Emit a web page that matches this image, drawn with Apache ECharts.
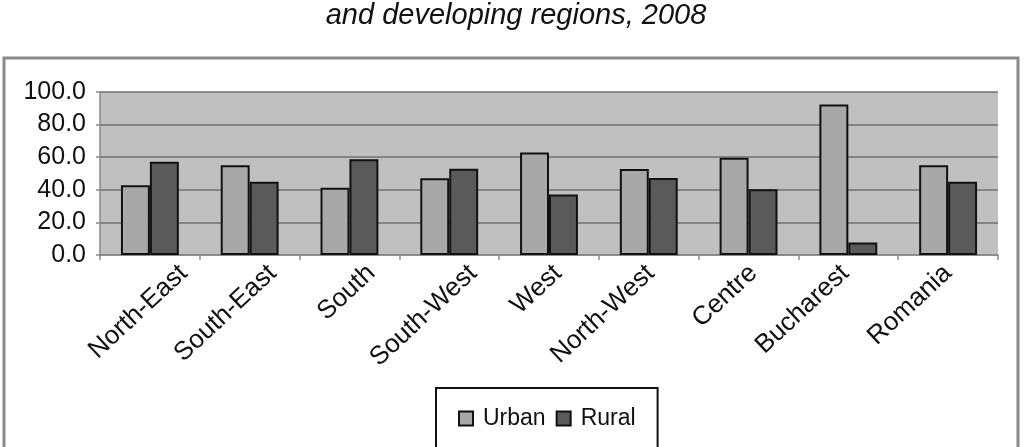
<!DOCTYPE html>
<html>
<head>
<meta charset="utf-8">
<script src="https://cdn.jsdelivr.net/npm/echarts@6/dist/echarts.min.js"></script>
<style>
html,body{margin:0;padding:0;background:#fff;}
#chart{width:1032px;height:447px;}
</style>
</head>
<body>
<div id="chart"></div>
<script>
// ---- data ----
const titleText = 'and developing regions, 2008';
const categories = ['North-East', 'South-East', 'South', 'South-West', 'West', 'North-West', 'Centre', 'Bucharest', 'Romania'];
const urban = [42.8, 55.0, 41.3, 47.1, 62.9, 52.7, 59.6, 92.3, 55.0];
const rural = [57.2, 45.0, 58.7, 52.9, 37.1, 47.3, 40.4, 7.7, 45.0];
const seriesNames = ['Urban', 'Rural'];

// ---- style ----
const FONT = "'Liberation Sans', Arial, sans-serif";
const ROT = 43;
const labelNudge = [25, 14, 13, 15, 0, -7, -4, -12, -9]; // horizontal nudge of each rotated label (px)
const Yoff = 60;
const rad = ROT * Math.PI / 180;
const rich = {};
labelNudge.forEach((dx, i) => {
  const t = Math.sin(rad) * dx + Math.cos(rad) * Yoff;
  const r = -Math.cos(rad) * dx + Math.sin(rad) * Yoff;
  rich['l' + i] = { padding: [t, Math.max(0, r), 0, 0], fontFamily: FONT, fontSize: 26, color: '#111' };
});

const chart = echarts.init(document.getElementById('chart'), null, { renderer: 'canvas' });
chart.setOption({
  animation: false,
  backgroundColor: '#fff',
  title: {
    text: titleText,
    left: 'center',
    top: 1,
    padding: 0,
    textStyle: { fontFamily: FONT, fontStyle: 'italic', fontWeight: 'normal', fontSize: 29, color: '#111' }
  },
  graphic: [{
    type: 'rect',
    shape: { x: 4, y: 58, width: 1014, height: 420 },
    style: { fill: 'none', stroke: '#8a8a8a', lineWidth: 3 },
    silent: true, z: 0
  }],
  legend: {
    data: seriesNames,
    left: 436,
    top: 388,
    padding: [19, 22, 40, 22],
    borderColor: '#111',
    borderWidth: 2,
    itemWidth: 14,
    itemHeight: 14,
    itemGap: 10,
    icon: 'rect',
    textStyle: { fontFamily: FONT, fontSize: 23, color: '#111', padding: [0, 0, 0, 5] }
  },
  grid: {
    left: 100, right: 34, top: 92, bottom: 192,
    show: true, backgroundColor: '#c0c0c0', borderWidth: 0,
    containLabel: false
  },
  xAxis: {
    type: 'category',
    data: categories,
    axisLine: { show: true, lineStyle: { color: '#8a8a8a', width: 1.5 } },
    axisTick: { show: true, alignWithLabel: false, length: 5, lineStyle: { color: '#8a8a8a', width: 1.5 } },
    axisLabel: {
      interval: 0,
      rotate: ROT,
      margin: 5 - Yoff,
      align: 'right',
      verticalAlign: 'top',
      fontFamily: FONT,
      fontSize: 26,
      color: '#111',
      formatter: (v, i) => '{l' + i + '|' + v + '}',
      rich: rich
    }
  },
  yAxis: {
    type: 'value',
    min: 0, max: 100, interval: 20,
    axisLine: { show: true, lineStyle: { color: '#8a8a8a', width: 1.5 } },
    axisTick: { show: true, length: 4, lineStyle: { color: '#8a8a8a', width: 1.5 } },
    splitLine: { show: true, lineStyle: { color: '#727272', width: 1.5 } },
    axisLabel: {
      margin: 14,
      fontFamily: FONT,
      fontSize: 25,
      color: '#111',
      formatter: v => v.toFixed(1)
    }
  },
  series: [
    {
      name: seriesNames[0], type: 'bar', data: urban,
      barGap: '0%', barCategoryGap: '42%',
      itemStyle: { color: '#a8a8a8', borderColor: '#111', borderWidth: 2 }
    },
    {
      name: seriesNames[1], type: 'bar', data: rural,
      barGap: '0%', barCategoryGap: '42%',
      itemStyle: { color: '#5a5a5a', borderColor: '#111', borderWidth: 2 }
    }
  ]
});
</script>
</body>
</html>
